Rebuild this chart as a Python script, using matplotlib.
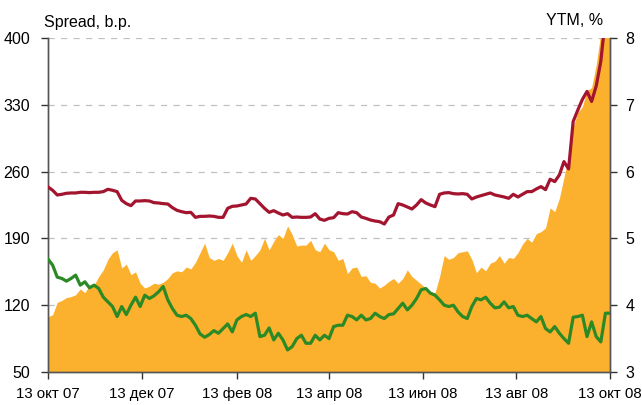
import numpy as np
import pandas as pd
import matplotlib
matplotlib.use('Agg')
import matplotlib.pyplot as plt

plt.rcParams['font.family'] = ['Liberation Sans Narrow', 'Liberation Sans', 'DejaVu Sans']
plt.rcParams['font.size'] = 11.5

# spread, b.p. (every 3 days, 13.10.2007 - 13.10.2008)
spread = [108, 110, 123, 125, 128, 129, 131, 137, 133, 141,
          141, 150, 157, 168, 175, 178, 159, 163, 152, 155,
          143, 138, 140, 143, 142, 144, 148, 154, 156, 155,
          160, 158, 165, 175, 185, 170, 167, 169, 167, 175,
          185, 172, 165, 178, 167, 172, 178, 190, 178, 187,
          194, 190, 203, 194, 182, 183, 183, 188, 178, 176,
          185, 178, 176, 167, 169, 153, 159, 160, 150, 151,
          144, 143, 138, 141, 145, 148, 143, 148, 157, 150,
          146, 142, 138, 134, 133, 150, 172, 168, 170, 175,
          176, 177, 168, 154, 160, 156, 164, 166, 172, 164,
          170, 169, 175, 184, 190, 186, 195, 197, 201, 222,
          218, 232, 254, 275, 307, 322, 328, 345, 348, 372,
          405, 415, 420]

# YTM, % - red
ytm_red = [5.77, 5.72, 5.65, 5.66, 5.675, 5.68, 5.68, 5.69, 5.69, 5.685,
           5.69, 5.69, 5.70, 5.735, 5.72, 5.70, 5.57, 5.52, 5.49, 5.56,
           5.56, 5.565, 5.56, 5.535, 5.53, 5.52, 5.515, 5.46, 5.42, 5.40,
           5.385, 5.39, 5.315, 5.33, 5.33, 5.335, 5.33, 5.315, 5.315, 5.45,
           5.48, 5.485, 5.50, 5.515, 5.60, 5.59, 5.52, 5.45, 5.39, 5.415,
           5.38, 5.35, 5.37, 5.315, 5.32, 5.315, 5.315, 5.32, 5.37, 5.29,
           5.27, 5.30, 5.31, 5.385, 5.37, 5.365, 5.40, 5.385, 5.32, 5.30,
           5.275, 5.26, 5.25, 5.215, 5.32, 5.35, 5.52, 5.50, 5.47, 5.44,
           5.50, 5.58, 5.53, 5.50, 5.475, 5.66, 5.68, 5.685, 5.67, 5.665,
           5.67, 5.66, 5.59, 5.62, 5.64, 5.66, 5.68, 5.65, 5.635, 5.62,
           5.60, 5.66, 5.62, 5.66, 5.70, 5.70, 5.74, 5.775, 5.73, 5.885,
           5.85, 5.95, 6.15, 6.04, 6.75, 6.92, 7.08, 7.20, 7.05, 7.28,
           7.65, 8.3, 8.6]

# YTM, % - green
ytm_green = [4.69, 4.60, 4.42, 4.40, 4.36, 4.40, 4.45, 4.30, 4.35, 4.26,
             4.30, 4.25, 4.12, 4.05, 3.98, 3.83, 3.98, 3.86, 4.00, 4.12,
             3.98, 4.15, 4.10, 4.14, 4.20, 4.28, 4.08, 3.95, 3.85, 3.83,
             3.85, 3.80, 3.70, 3.57, 3.52, 3.56, 3.62, 3.58, 3.65, 3.72,
             3.60, 3.78, 3.83, 3.86, 3.83, 3.88, 3.53, 3.55, 3.66, 3.48,
             3.58, 3.48, 3.33, 3.38, 3.50, 3.55, 3.43, 3.43, 3.55, 3.48,
             3.55, 3.50, 3.68, 3.70, 3.70, 3.85, 3.83, 3.78, 3.85, 3.78,
             3.80, 3.88, 3.83, 3.80, 3.86, 3.87, 3.95, 4.03, 3.93, 4.00,
             4.10, 4.23, 4.25, 4.18, 4.15, 4.08, 4.00, 3.98, 4.00, 3.90,
             3.83, 3.80, 3.98, 4.10, 4.08, 4.12, 4.03, 3.96, 3.97, 4.05,
             3.96, 3.98, 3.85, 3.83, 3.85, 3.80, 3.75, 3.83, 3.65, 3.60,
             3.68, 3.58, 3.50, 3.43, 3.82, 3.83, 3.85, 3.53, 3.75, 3.53,
             3.45, 3.88, 3.88]

tick_dates = ['2007-10-13', '2007-12-13', '2008-02-13', '2008-04-13',
              '2008-06-13', '2008-08-13', '2008-10-13']
tick_labels = ['13 окт 07', '13 дек 07', '13 фев 08', '13 апр 08',
               '13 июн 08', '13 авг 08', '13 окт 08']

dates = pd.date_range('2007-10-13', periods=len(spread), freq='3D')

fig = plt.figure(figsize=(6.42, 4.05), dpi=100)
ax = fig.add_axes([0.0748, 0.0815, 0.8754, 0.8247])
ax2 = ax.twinx()

ax.fill_between(dates, 50, spread, color='#FBB12E', linewidth=0, zorder=2)
ax.set_ylim(50, 400)
ax.set_yticks([50, 120, 190, 260, 330, 400])
ax.yaxis.grid(True, color='#C0C0C0', linestyle=(0, (5, 5)), linewidth=0.9, zorder=1)
ax.set_axisbelow(True)

ax2.plot(dates, ytm_red, color='#A3142F', linewidth=2.3, zorder=3)
ax2.plot(dates, ytm_green, color='#2B8A25', linewidth=2.3, zorder=3)
ax2.set_ylim(3, 8)
ax2.set_yticks([3, 4, 5, 6, 7, 8])

ax.set_xlim(dates[0], dates[-1])
ax.set_xticks(pd.to_datetime(tick_dates))
ax.set_xticklabels(tick_labels, fontsize=10.8)

for a in (ax, ax2):
    a.spines['top'].set_visible(False)
    for s in ('left', 'right', 'bottom'):
        a.spines[s].set_color('#555555')
        a.spines[s].set_linewidth(1.0)
    a.tick_params(length=5, width=1, color='#333333')
ax.tick_params(axis='x', pad=6)
ax.tick_params(axis='y', pad=8)
ax2.tick_params(axis='y', pad=6)

fig.text(0.068, 0.945, 'Spread, b.p.', ha='left', va='center', fontsize=11.5)
fig.text(0.94, 0.950, 'YTM, %', ha='right', va='center', fontsize=11.5)

fig.savefig('out.png', dpi=100)
